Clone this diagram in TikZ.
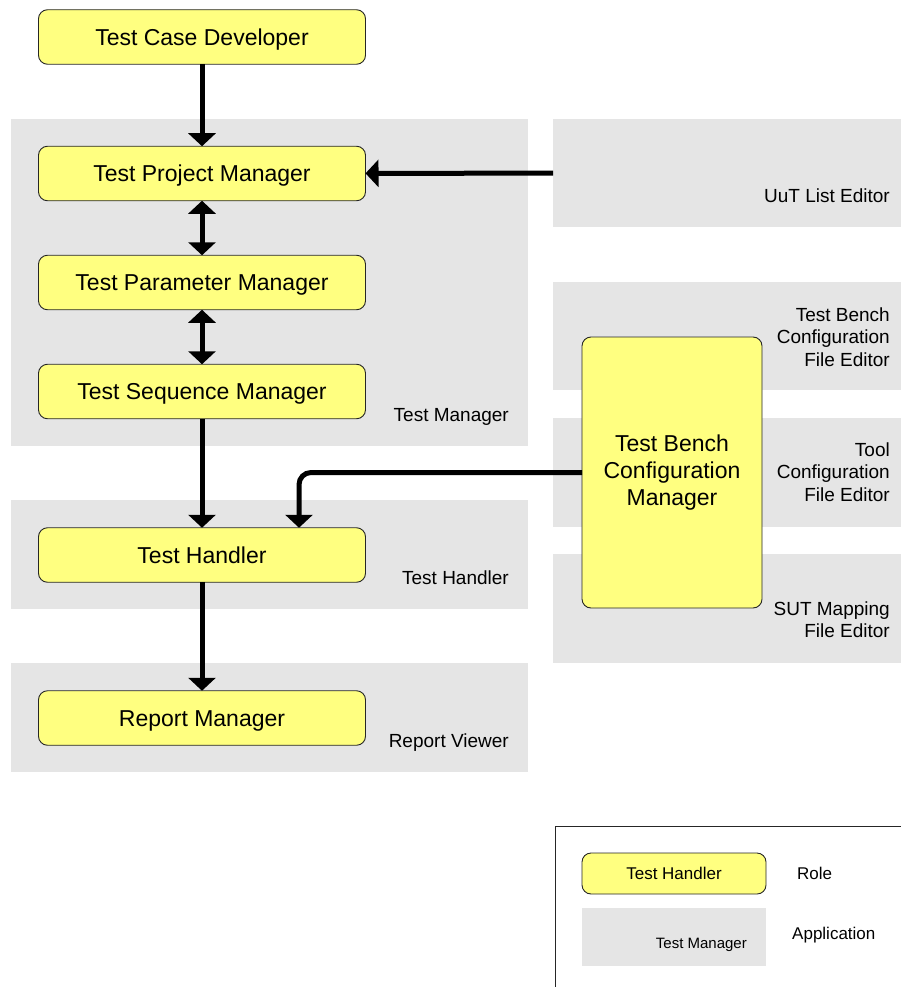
\documentclass[tikz,border=0pt]{standalone}
\usepackage{fontspec}
\setmainfont{Liberation Sans}
\usetikzlibrary{arrows.meta}
\usetikzlibrary{positioning}
\definecolor{roleyellow}{RGB}{255,255,128}
\definecolor{appgray}{RGB}{229,229,229}
\tikzset{> = {Triangle[width=27pt, length=13pt]}, node distance = 54.5pt}
\tikzset{
  rolebox/.style = {draw=black!85, line width=0.9pt, fill=roleyellow, rounded corners=9pt,
                    inner sep=0pt, outer sep=0pt, font=\fontsize{23}{27}\selectfont},
  role/.style = {rolebox, minimum width=327pt, minimum height=54.5pt, text height=16.4pt, text depth=0pt},
  app/.style = {fill=appgray, inner sep=0pt, outer sep=0pt},
  leftapp/.style = {app, minimum width=517pt, minimum height=109pt},
  rightapp/.style = {app, minimum width=348pt, minimum height=108.5pt},
  applabel/.style = {anchor=base east, align=right, inner sep=0pt, font=\fontsize{19}{22.5}\selectfont},
  flow/.style = {->, line width=5pt}
}

\begin{document}
\begin{tikzpicture}[x=1pt, y=-1pt]
  \useasboundingbox (0,0) rectangle (901,987);
  % applications
  \node [leftapp, minimum height=327pt] (tmapp) at (269.5,282.5) {};
  \node [leftapp] (thapp) at (269.5,554.5) {};
  \node [leftapp] (rvapp) at (269.5,717.5) {};
  \node [rightapp] (uutapp) at (727,173) {};
  \node [rightapp] (tbcfapp) at (727,336) {};
  \node [rightapp] (tcfapp) at (727,472.5) {};
  \node [rightapp] (sutapp) at (727,608.5) {};
  \node [applabel] (tmlbl) at (509,421) {Test Manager};
  \node [applabel] (thlbl) at (509,584) {Test Handler};
  \node [applabel] (rvlbl) at (509,747) {Report Viewer};
  \node [applabel] (uutlbl) at (890,203) {UuT List Editor};
  \node [applabel] (tbcflbl) at (890,366) {Test Bench\\Configuration\\File Editor};
  \node [applabel] (tcflbl) at (890,501) {Tool\\Configuration\\File Editor};
  \node [applabel] (sutlbl) at (890,637.5) {SUT Mapping\\File Editor};
  % roles
  \node [role] (tcd) at (202,37) {Test Case Developer};
  \node [role, below = 82pt of tcd] (tpm) {Test Project Manager};
  \node [role, below = of tpm] (tpam) {Test Parameter Manager};
  \node [role, below = of tpam] (tsm) {Test Sequence Manager};
  \node [role, below = 109pt of tsm] (th) {Test Handler};
  \node [role, below = 108.5pt of th] (rm) {Report Manager};
  \node [rolebox, minimum width=180pt, minimum height=271pt, align=center] (tbcm) at (672,472.5)
    {Test Bench\\Configuration\\Manager};
  % paths
  \draw [flow] (tcd) -- (tpm);
  \draw [flow] (uutapp) -- (tpm);
  \draw [flow, <->] (tpm) -- (tpam);
  \draw [flow, <->] (tpam) -- (tsm);
  \draw [flow] (tsm) -- (th);
  \draw [flow, rounded corners=12pt] (tbcm.west) -| ([xshift=97pt]th.north);
  \draw [flow] (th) -- (rm);
  % legend
  \draw [draw=black!85, line width=0.9pt] (555,826) rectangle (940,1020);
  \node [rolebox, minimum width=184pt, minimum height=41pt, font=\fontsize{17}{20}\selectfont,
         text height=12.2pt, text depth=0pt] (legrole) at (674,873.5) {Test Handler};
  \node [app, minimum width=184pt, minimum height=58pt] (legapp) at (674,937) {};
  \node [applabel, font=\fontsize{15}{18}\selectfont] (legapplbl) at (747,948) {Test Manager};
  \node [anchor=base west, inner sep=0pt, font=\fontsize{17}{20}\selectfont] (roletxt) at (797,879) {Role};
  \node [anchor=base west, inner sep=0pt, font=\fontsize{17}{20}\selectfont] (apptxt) at (792,939) {Application};
\end{tikzpicture}
\end{document}
